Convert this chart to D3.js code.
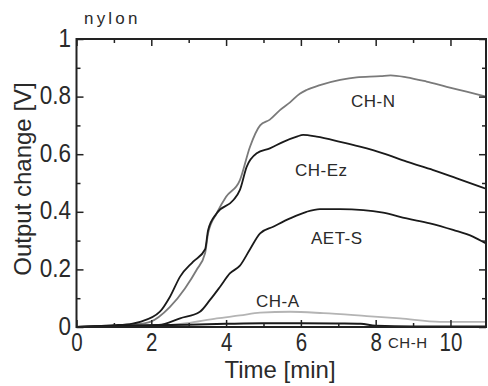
<!DOCTYPE html>
<html><head><meta charset="utf-8">
<script src="https://cdn.jsdelivr.net/npm/d3@7"></script>
<style>
body{margin:0;background:#fff;}
svg{display:block;}
text{font-family:"Liberation Sans",Arial,sans-serif;fill:#2a2a2a;}
</style></head>
<body><svg id="c" width="488" height="386"></svg>
<script>
// ---- data ----
const xTicks = [0, 2, 4, 6, 8, 10];
const xMinor = [1, 3, 5, 7, 9];
const yTicks = [0, 0.2, 0.4, 0.6, 0.8, 1];
const yMinor = [0.1, 0.3, 0.5, 0.7, 0.9];
const yTickLabels = ["0", "0.2", "0.4", "0.6", "0.8", "1"];

const chN_t = [0, 0.5, 1, 1.5, 1.97, 2.5, 2.9, 3.21, 3.44, 3.52, 3.75, 4.0, 4.37, 4.64, 4.91, 5.17, 5.44, 5.71, 5.97, 6.15, 6.51, 7.05, 7.49, 8.13, 8.4, 8.83, 9.36, 9.9, 10.43, 10.95];
const chN_v = [0, 0.002, 0.004, 0.008, 0.018, 0.07, 0.134, 0.198, 0.257, 0.326, 0.395, 0.452, 0.51, 0.626, 0.70, 0.72, 0.753, 0.78, 0.81, 0.823, 0.84, 0.858, 0.867, 0.871, 0.874, 0.867, 0.852, 0.834, 0.817, 0.80];

const chEz_t = [0, 0.5, 1, 1.5, 1.7, 2.23, 2.5, 2.77, 3.12, 3.44, 3.52, 3.75, 4.19, 4.37, 4.55, 4.82, 5.17, 5.53, 5.89, 6.06, 6.42, 7.05, 7.58, 8.2, 8.83, 9.54, 10.17, 10.95];
const chEz_v = [0, 0.003, 0.006, 0.012, 0.018, 0.053, 0.105, 0.175, 0.227, 0.27, 0.337, 0.395, 0.44, 0.476, 0.556, 0.603, 0.62, 0.643, 0.661, 0.667, 0.661, 0.643, 0.626, 0.603, 0.574, 0.545, 0.516, 0.48];

const aetS_t = [0, 1, 2.2, 2.77, 3.3, 3.57, 3.84, 4.1, 4.37, 4.64, 4.91, 5.26, 5.71, 6.15, 6.51, 7.05, 7.67, 8.2, 8.83, 9.45, 10.07, 10.6, 10.95];
const aetS_v = [0, 0.003, 0.007, 0.03, 0.053, 0.094, 0.14, 0.186, 0.213, 0.27, 0.325, 0.348, 0.377, 0.40, 0.409, 0.409, 0.406, 0.397, 0.377, 0.36, 0.337, 0.314, 0.29];

const chA_t = [0, 2, 2.95, 3.75, 4.37, 4.91, 5.71, 6.6, 7.76, 8.65, 9.72, 10.95];
const chA_v = [0, 0.002, 0.013, 0.03, 0.04, 0.05, 0.053, 0.048, 0.038, 0.03, 0.018, 0.018];

const chH_t = [0, 1, 2, 3, 4, 5, 6, 7, 7.6, 8, 9, 10.95];
const chH_v = [0, 0.004, 0.006, 0.008, 0.011, 0.013, 0.013, 0.012, 0.011, 0.004, 0.002, 0.002];

const seriesNames = ["CH-N", "CH-Ez", "AET-S", "CH-A", "CH-H"];

// ---- drawing ----
const svg = d3.select("#c");
const L = 76.5, R = 486, T = 39, B = 327;
const x = d3.scaleLinear().domain([0, 10.95]).range([L, R]);
const y = d3.scaleLinear().domain([0, 1]).range([B, T]);

const series = [
  {name: seriesNames[0], t: chN_t, v: chN_v, color: "#7a7a7a", w: 1.8},
  {name: seriesNames[3], t: chA_t, v: chA_v, color: "#b4b4b4", w: 1.8},
  {name: seriesNames[4], t: chH_t, v: chH_v, color: "#1a1a1a", w: 2},
  {name: seriesNames[1], t: chEz_t, v: chEz_v, color: "#1a1a1a", w: 1.8},
  {name: seriesNames[2], t: aetS_t, v: aetS_v, color: "#1a1a1a", w: 1.8}
];
const line = d3.line().x(d => x(d[0])).y(d => y(d[1])).curve(d3.curveMonotoneX);
series.forEach(s => {
  svg.append("path").datum(s.t.map((t, i) => [t, s.v[i]]))
    .attr("d", line).attr("fill", "none").attr("stroke", s.color)
    .attr("stroke-width", s.w).attr("stroke-linejoin", "round");
});

function styleAxis(g){
  g.select(".domain").remove();
  g.selectAll("line").attr("stroke", "#222").attr("stroke-width", 1.5);
}
// bottom
svg.append("g").attr("transform", `translate(0,${B})`)
  .call(d3.axisBottom(x).tickValues(xTicks).tickSize(-7).tickPadding(6).tickFormat(d3.format("d")))
  .call(styleAxis)
  .call(g => g.selectAll("text").attr("font-size", 25).attr("font-family", "Liberation Sans, Arial, sans-serif")
        .attr("fill", "#2a2a2a").attr("transform", "scale(0.82,1)"));
svg.append("g").attr("transform", `translate(0,${B})`)
  .call(d3.axisBottom(x).tickValues(xMinor).tickSize(-4).tickFormat(""))
  .call(styleAxis);
// top
svg.append("g").attr("transform", `translate(0,${T})`)
  .call(d3.axisTop(x).tickValues(xTicks).tickSize(-7).tickFormat(""))
  .call(styleAxis);
svg.append("g").attr("transform", `translate(0,${T})`)
  .call(d3.axisTop(x).tickValues(xMinor).tickSize(-4).tickFormat(""))
  .call(styleAxis);
// left
svg.append("g").attr("transform", `translate(${L},0)`)
  .call(d3.axisLeft(y).tickValues(yTicks).tickSize(-7).tickPadding(6).tickFormat((d, i) => yTickLabels[i]))
  .call(styleAxis)
  .call(g => g.selectAll("text").attr("font-size", 25).attr("font-family", "Liberation Sans, Arial, sans-serif")
        .attr("fill", "#2a2a2a").attr("dy", "0.28em").attr("transform", "scale(0.9,1)"));
svg.append("g").attr("transform", `translate(${L},0)`)
  .call(d3.axisLeft(y).tickValues(yMinor).tickSize(-4).tickFormat(""))
  .call(styleAxis);
// right
svg.append("g").attr("transform", `translate(${R},0)`)
  .call(d3.axisRight(y).tickValues(yTicks).tickSize(-7).tickFormat(""))
  .call(styleAxis);
svg.append("g").attr("transform", `translate(${R},0)`)
  .call(d3.axisRight(y).tickValues(yMinor).tickSize(-4).tickFormat(""))
  .call(styleAxis);

// frame
svg.append("rect").attr("x", L).attr("y", T).attr("width", R - L).attr("height", B - T)
  .attr("fill", "none").attr("stroke", "#222").attr("stroke-width", 2);

// titles
svg.append("text").attr("x", 280).attr("y", 378).attr("text-anchor", "middle")
  .attr("font-size", 24).text("Time [min]");
svg.append("text").attr("transform", "translate(31,179) rotate(-90)").attr("text-anchor", "middle")
  .attr("font-size", 24).text("Output change [V]");
svg.append("text").attr("x", 84).attr("y", 24).attr("font-size", 17)
  .attr("letter-spacing", 3.2).text("nylon");

// series labels
const labelPos = [
  {x: 351, y: 107, s: 17},
  {x: 295, y: 176, s: 17},
  {x: 311, y: 244, s: 17},
  {x: 256, y: 307, s: 17},
  {x: 388, y: 348, s: 15}
];
seriesNames.forEach((n, i) => {
  svg.append("text").attr("x", labelPos[i].x).attr("y", labelPos[i].y)
    .attr("font-size", labelPos[i].s).attr("letter-spacing", 0.5).text(n);
});
</script></body></html>
